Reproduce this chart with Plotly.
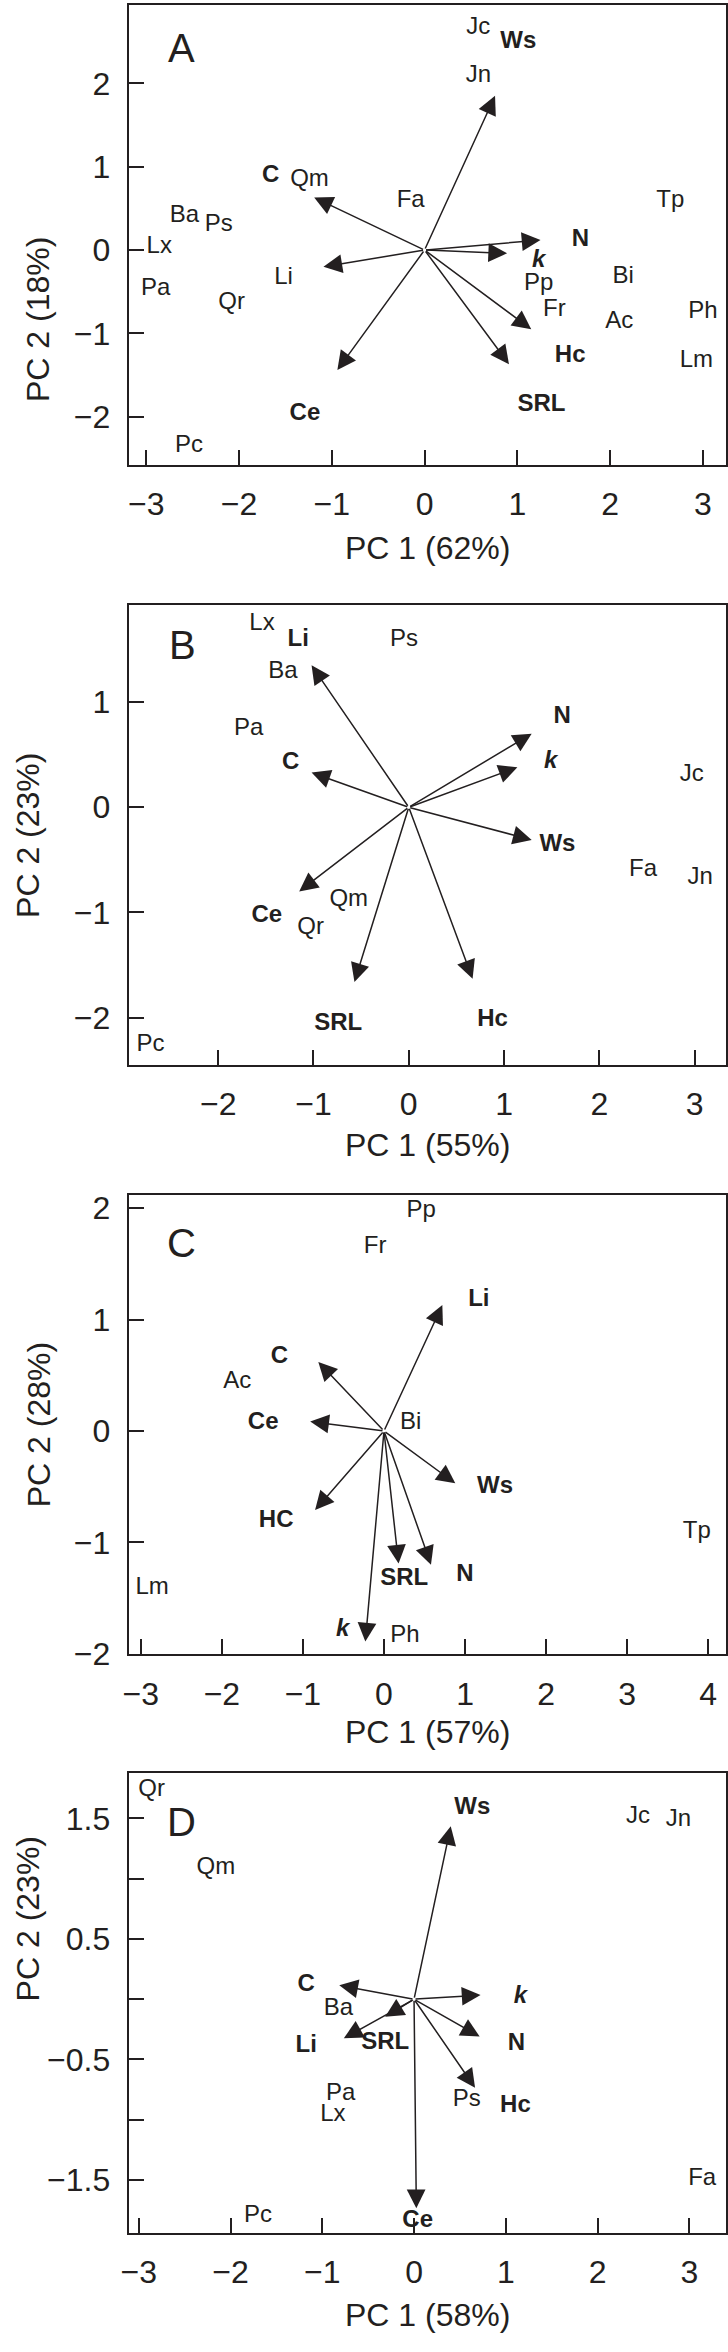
import plotly.graph_objects as go

INK = "#231f20"
FONT = "Liberation Sans, Arial, sans-serif"

# ---- Panel A : PC 1 (62%) / PC 2 (18%)
a_species = ["Jc", "Jn", "Qm", "Fa", "Tp", "Ba", "Ps", "Lx", "Bi", "Pp", "Pa", "Qr", "Fr", "Ac", "Ph", "Lm", "Pc"]
a_sp_x = [0.58, 0.58, -1.24, -0.15, 2.65, -2.59, -2.22, -2.86, 2.14, 1.23, -2.90, -2.08, 1.40, 2.10, 3.00, 2.93, -2.54]
a_sp_y = [2.66, 2.09, 0.84, 0.59, 0.59, 0.41, 0.30, 0.04, -0.32, -0.41, -0.47, -0.64, -0.72, -0.86, -0.74, -1.33, -2.35]
a_vars = ["Ws", "C", "N", "k", "Li", "Hc", "SRL", "Ce"]
a_arrow_x = [0.76, -1.19, 1.25, 0.89, -1.09, 1.15, 0.91, -0.94]
a_arrow_y = [1.85, 0.63, 0.12, -0.04, -0.20, -0.95, -1.37, -1.44]
a_var_lx = [1.01, -1.66, 1.68, 1.23, -1.52, 1.57, 1.26, -1.29]
a_var_ly = [2.50, 0.89, 0.12, -0.13, -0.33, -1.27, -1.86, -1.97]
a_plain = ["Li"]
a_xticks = [-3, -2, -1, 0, 1, 2, 3]
a_yticks = [-2, -1, 0, 1, 2]

# ---- Panel B : PC 1 (55%) / PC 2 (23%)
b_species = ["Lx", "Ps", "Ba", "Pa", "Jc", "Fa", "Jn", "Qm", "Qr", "Pc"]
b_sp_x = [-1.54, -0.05, -1.32, -1.68, 2.97, 2.46, 3.06, -0.63, -1.03, -2.71]
b_sp_y = [1.74, 1.59, 1.29, 0.74, 0.31, -0.60, -0.67, -0.88, -1.15, -2.26]
b_vars = ["Li", "N", "k", "C", "Ws", "Ce", "SRL", "Hc"]
b_arrow_x = [-1.02, 1.29, 1.14, -1.02, 1.29, -1.15, -0.57, 0.67]
b_arrow_y = [1.35, 0.70, 0.38, 0.33, -0.31, -0.80, -1.66, -1.63]
b_var_lx = [-1.16, 1.61, 1.49, -1.24, 1.56, -1.49, -0.74, 0.88]
b_var_ly = [1.59, 0.86, 0.43, 0.42, -0.36, -1.03, -2.06, -2.02]
b_xticks = [-2, -1, 0, 1, 2, 3]
b_yticks = [-2, -1, 0, 1]

# ---- Panel C : PC 1 (57%) / PC 2 (28%)
c_species = ["Pp", "Fr", "Ac", "Bi", "Tp", "Lm", "Ph"]
c_sp_x = [0.46, -0.11, -1.81, 0.33, 3.86, -2.86, 0.26]
c_sp_y = [1.97, 1.65, 0.44, 0.07, -0.91, -1.41, -1.84]
c_vars = ["Li", "C", "Ce", "Ws", "HC", "SRL", "N", "k"]
c_arrow_x = [0.72, -0.81, -0.91, 0.88, -0.85, 0.18, 0.58, -0.23]
c_arrow_y = [1.13, 0.62, 0.085, -0.47, -0.71, -1.19, -1.20, -1.89]
c_var_lx = [1.17, -1.29, -1.49, 1.37, -1.33, 0.25, 1.00, -0.51]
c_var_ly = [1.18, 0.66, 0.07, -0.50, -0.81, -1.33, -1.29, -1.79]
c_xticks = [-3, -2, -1, 0, 1, 2, 3, 4]
c_yticks = [-2, -1, 0, 1, 2]

# ---- Panel D : PC 1 (58%) / PC 2 (23%)
d_species = ["Qr", "Jc", "Jn", "Qm", "Ba", "Pa", "Ps", "Lx", "Fa", "Pc"]
d_sp_x = [-2.86, 2.44, 2.88, -2.16, -0.825, -0.80, 0.575, -0.885, 3.14, -1.70]
d_sp_y = [1.735, 1.51, 1.49, 1.09, -0.08, -0.79, -0.84, -0.96, -1.49, -1.80]
d_vars = ["Ws", "C", "k", "SRL", "Li", "N", "Hc", "Ce"]
d_arrow_x = [0.40, -0.815, 0.725, -0.315, -0.765, 0.715, 0.665, 0.025]
d_arrow_y = [1.435, 0.115, 0.034, -0.146, -0.325, -0.31, -0.735, -1.735]
d_var_lx = [0.635, -1.175, 1.16, -0.315, -1.175, 1.115, 1.105, 0.04]
d_var_ly = [1.59, 0.115, 0.02, -0.36, -0.39, -0.37, -0.89, -1.84]
d_xticks = [-3, -2, -1, 0, 1, 2, 3]
d_yticks = [-1.5, -1, -0.5, 0, 0.5, 1, 1.5]
d_yticktext = ["\u22121.5", "", "\u22120.5", "", "0.5", "", "1.5"]

panels = [
    dict(letter="A", species=a_species, sx=a_sp_x, sy=a_sp_y, vars=a_vars, ax=a_arrow_x, ay=a_arrow_y,
         lx=a_var_lx, ly=a_var_ly, plain=a_plain, xt=a_xticks, yt=a_yticks, ytt=None,
         xr=[-3.19, 3.25], yr=[-2.575, 2.94], letter_xy=(-2.62, 2.43),
         xtitle="PC 1 (62%)", ytitle="PC 2 (18%)"),
    dict(letter="B", species=b_species, sx=b_sp_x, sy=b_sp_y, vars=b_vars, ax=b_arrow_x, ay=b_arrow_y,
         lx=b_var_lx, ly=b_var_ly, plain=[], xt=b_xticks, yt=b_yticks, ytt=None,
         xr=[-2.94, 3.33], yr=[-2.45, 1.92], letter_xy=(-2.38, 1.545),
         xtitle="PC 1 (55%)", ytitle="PC 2 (23%)"),
    dict(letter="C", species=c_species, sx=c_sp_x, sy=c_sp_y, vars=c_vars, ax=c_arrow_x, ay=c_arrow_y,
         lx=c_var_lx, ly=c_var_ly, plain=[], xt=c_xticks, yt=c_yticks, ytt=None,
         xr=[-3.15, 4.22], yr=[-2.005, 2.12], letter_xy=(-2.50, 1.69),
         xtitle="PC 1 (57%)", ytitle="PC 2 (28%)"),
    dict(letter="D", species=d_species, sx=d_sp_x, sy=d_sp_y, vars=d_vars, ax=d_arrow_x, ay=d_arrow_y,
         lx=d_var_lx, ly=d_var_ly, plain=[], xt=d_xticks, yt=d_yticks, ytt=d_yticktext,
         xr=[-3.11, 3.40], yr=[-1.94, 1.875], letter_xy=(-2.535, 1.47),
         xtitle="PC 1 (58%)", ytitle="PC 2 (23%)"),
]

W, H = 728, 2352
box_left, box_right = 122, 726
box_tops = [1, 607, 1202, 1786]
box_bottoms = [465, 1071, 1666, 2250]
xtitle_y = [549, 1152, 1744, 2333]
ytitle_x = [31, 20, 31, 20]


def var_label(name, plain):
    if name in plain:
        return name
    if name == "k":
        return "<b><i>k</i></b>"
    return "<b>" + name + "</b>"


fig = go.Figure()
annotations = []
layout_axes = {}

for i, p in enumerate(panels):
    n = "" if i == 0 else str(i + 1)
    xa, ya = "x" + n, "y" + n

    fig.add_trace(go.Scatter(
        x=p["sx"], y=p["sy"], text=p["species"], mode="text",
        textfont=dict(family=FONT, size=24, color=INK),
        xaxis=xa, yaxis=ya, showlegend=False, hoverinfo="skip"))
    fig.add_trace(go.Scatter(
        x=p["lx"], y=p["ly"], text=[var_label(v, p["plain"]) for v in p["vars"]], mode="text",
        textfont=dict(family=FONT, size=24, color=INK),
        xaxis=xa, yaxis=ya, showlegend=False, hoverinfo="skip"))

    for tx, ty in zip(p["ax"], p["ay"]):
        annotations.append(dict(
            x=tx, y=ty, ax=0, ay=0, xref=xa, yref=ya, axref=xa, ayref=ya,
            showarrow=True, arrowhead=2, arrowsize=2.5, arrowwidth=1.5,
            arrowcolor=INK, standoff=0, text=""))

    annotations.append(dict(
        x=p["letter_xy"][0], y=p["letter_xy"][1], xref=xa, yref=ya, text=p["letter"],
        showarrow=False, font=dict(family=FONT, size=40, color=INK)))

    xmid = (box_left + box_right) / 2 / W
    annotations.append(dict(
        x=xmid, y=1 - xtitle_y[i] / H, xref="paper", yref="paper", text=p["xtitle"],
        showarrow=False, font=dict(family=FONT, size=32, color=INK), yanchor="middle"))
    ymid = 1 - (box_tops[i] + box_bottoms[i]) / 2 / H
    annotations.append(dict(
        x=ytitle_x[i] / W, y=ymid, xref="paper", yref="paper", text=p["ytitle"],
        textangle=-90, showarrow=False, font=dict(family=FONT, size=32, color=INK),
        xanchor="center"))

    axis_common = dict(
        showline=True, linecolor=INK, linewidth=2, mirror=True,
        ticks="inside", ticklen=15, tickwidth=1.6, tickcolor=INK,
        showgrid=False, zeroline=False,
        tickfont=dict(family=FONT, size=32, color=INK), ticklabelstandoff=10)
    xname = "xaxis" + n
    yname = "yaxis" + n
    layout_axes[xname] = dict(
        axis_common, domain=[box_left / W, box_right / W], range=p["xr"],
        tickmode="array", tickvals=p["xt"], anchor=ya)
    ydict = dict(
        axis_common, domain=[1 - box_bottoms[i] / H, 1 - box_tops[i] / H], range=p["yr"],
        tickmode="array", tickvals=p["yt"], anchor=xa)
    if p["ytt"] is not None:
        ydict["ticktext"] = p["ytt"]
    layout_axes[yname] = ydict

fig.update_layout(
    width=W, height=H,
    margin=dict(l=0, r=0, t=0, b=0),
    paper_bgcolor="white", plot_bgcolor="white",
    annotations=annotations,
    **layout_axes)

# the page's default body margin would push the figure 8px off the window
fig.write_html("out.html", config={"displayModeBar": False},
               post_script="document.body.style.margin='0';document.body.style.overflow='hidden';")
